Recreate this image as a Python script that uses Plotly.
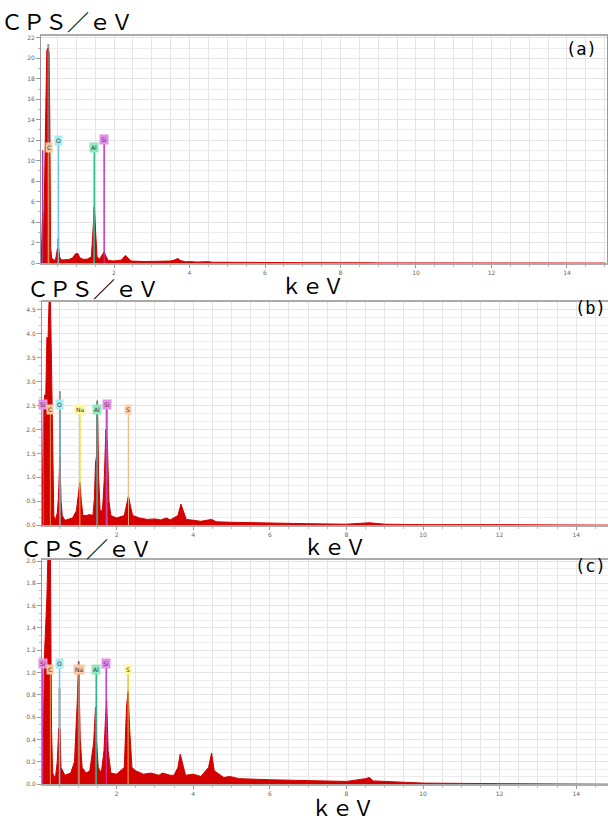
import plotly.graph_objects as go

W, H = 608, 818

# ---------------- data ----------------
# Panel (a)
a_energy = [0.07, 0.09, 0.11, 0.13, 0.16, 0.19, 0.22, 0.25, 0.28, 0.30, 0.32, 0.35, 0.40, 0.45,
            0.50, 0.53, 0.56, 0.60, 0.70, 0.80, 0.90, 0.98, 1.04, 1.10, 1.20, 1.30, 1.40, 1.44,
            1.48, 1.51, 1.55, 1.62, 1.70, 1.74, 1.78, 1.85, 2.00, 2.20, 2.30, 2.36, 2.45, 2.80,
            3.20, 3.50, 3.60, 3.69, 3.76, 3.90, 4.00, 4.20, 4.50, 4.60, 5.00, 5.50, 6.00, 7.00,
            8.00, 8.60, 8.70, 9.00, 10.0, 12.0, 15.0]
a_cps = [0.0, 5.0, 5.0, 1.0, 8.8, 13.3, 20.8, 21.0, 20.5, 13.7, 1.5, 0.5, 0.3, 0.3,
         1.4, 1.5, 0.6, 0.3, 0.3, 0.35, 0.5, 0.9, 0.95, 0.5, 0.35, 0.4, 0.6, 3.4,
         5.4, 3.3, 0.6, 0.4, 0.8, 1.1, 0.7, 0.25, 0.2, 0.3, 0.75, 0.5, 0.2, 0.15,
         0.15, 0.2, 0.3, 0.45, 0.25, 0.12, 0.15, 0.1, 0.14, 0.08, 0.08, 0.06, 0.05, 0.04,
         0.03, 0.08, 0.03, 0.02, 0.01, 0.01, 0.0]

# Panel (b)
b_energy = [0.05, 0.07, 0.09, 0.12, 0.15, 0.18, 0.21, 0.24, 0.27, 0.30, 0.33, 0.36, 0.40, 0.45,
            0.48, 0.52, 0.55, 0.58, 0.65, 0.75, 0.85, 0.95, 1.00, 1.04, 1.08, 1.12, 1.20, 1.30,
            1.38, 1.42, 1.45, 1.48, 1.50, 1.53, 1.57, 1.63, 1.68, 1.72, 1.76, 1.80, 1.85, 2.00,
            2.20, 2.27, 2.31, 2.36, 2.42, 2.60, 2.80, 3.00, 3.15, 3.30, 3.40, 3.60, 3.68, 3.74,
            3.82, 4.02, 4.20, 4.48, 4.60, 5.00, 5.50, 6.00, 7.00, 8.00, 8.60, 9.00, 10.0, 12.0,
            14.9]
b_cps = [0.0, 1.5, 2.3, 2.72, 2.7, 3.93, 3.9, 4.8, 4.8, 3.38, 1.25, 0.2, 0.1, 0.25,
         0.55, 1.44, 0.5, 0.2, 0.1, 0.12, 0.15, 0.3, 0.6, 0.89, 0.5, 0.2, 0.2, 0.22,
         0.2, 0.55, 1.3, 1.47, 2.6, 1.0, 0.3, 0.3, 1.0, 2.0, 1.7, 0.5, 0.2, 0.15,
         0.2, 0.45, 0.61, 0.4, 0.2, 0.15, 0.12, 0.13, 0.11, 0.15, 0.11, 0.2, 0.44, 0.3,
         0.12, 0.1, 0.08, 0.12, 0.07, 0.06, 0.05, 0.04, 0.03, 0.02, 0.05, 0.02, 0.01, 0.01,
         0.0]

# Panel (c)
c_energy = [0.05, 0.08, 0.12, 0.15, 0.18, 0.21, 0.27, 0.30, 0.33, 0.40, 0.45, 0.49, 0.52, 0.55,
            0.65, 0.80, 0.90, 0.97, 1.01, 1.05, 1.10, 1.20, 1.30, 1.40, 1.45, 1.48, 1.52, 1.60,
            1.67, 1.71, 1.74, 1.78, 1.85, 2.00, 2.20, 2.26, 2.30, 2.34, 2.40, 2.50, 2.70, 2.90,
            3.10, 3.20, 3.40, 3.50, 3.60, 3.66, 3.72, 3.80, 4.00, 4.20, 4.40, 4.48, 4.55, 4.80,
            4.95, 5.20, 6.00, 7.00, 8.00, 8.50, 8.60, 8.70, 9.50, 10.0, 12.0, 14.9]
c_cps = [0.0, 0.2, 1.19, 1.42, 1.68, 2.1, 2.1, 0.5, 0.1, 0.05, 0.2, 0.5, 0.5, 0.15,
         0.08, 0.1, 0.2, 0.72, 1.1, 0.4, 0.15, 0.1, 0.12, 0.37, 0.69, 0.37, 0.15, 0.1,
         0.3, 0.59, 0.75, 0.3, 0.1, 0.09, 0.15, 0.7, 0.83, 0.5, 0.15, 0.12, 0.09, 0.1,
         0.08, 0.1, 0.08, 0.08, 0.15, 0.27, 0.18, 0.08, 0.09, 0.07, 0.15, 0.28, 0.12, 0.06,
         0.07, 0.05, 0.04, 0.03, 0.025, 0.05, 0.06, 0.03, 0.015, 0.01, 0.005, 0.0]

# grey fitted-peak bars
a_fit_energy = [0.26, 0.52, 1.47]
a_fit_cps = [21.4, 2.4, 5.5]
b_fit_energy = [0.52, 1.49, 1.74]
b_fit_cps = [2.8, 2.6, 2.6]
c_fit_energy = [0.51, 1.46, 1.01]
c_fit_cps = [0.86, 0.69, 1.1]

# element markers: label, energy, label height
a_elements = ["", "C", "O", "Al", "Si"]
a_el_energy = [0.11, 0.27, 0.53, 1.48, 1.74]
a_el_height = [11.0, 11.3, 12.0, 11.3, 12.1]

b_elements = ["Si", "C", "O", "Na", "Al", "Si", "S"]
b_el_energy = [0.09, 0.27, 0.52, 1.04, 1.49, 1.74, 2.31]
b_el_height = [2.53, 2.41, 2.53, 2.41, 2.41, 2.53, 2.41]

c_elements = ["Si", "C", "O", "Na", "Al", "Si", "S"]
c_el_energy = [0.07, 0.27, 0.51, 1.02, 1.47, 1.73, 2.30]
c_el_height = [1.08, 1.03, 1.08, 1.03, 1.03, 1.08, 1.03]

a_yticks = [0, 2, 4, 6, 8, 10, 12, 14, 16, 18, 20, 22]
b_yticks = [0.0, 0.5, 1.0, 1.5, 2.0, 2.5, 3.0, 3.5, 4.0, 4.5]
c_yticks = [0.0, 0.2, 0.4, 0.6, 0.8, 1.0, 1.2, 1.4, 1.6, 1.8, 2.0]
x_ticks = [2, 4, 6, 8, 10, 12, 14]

# colours per element
EL_COL = {
    "": ("#a040c0", "#a040c0"),
    "C": ("#f0a050", "#f8c898"),
    "O": ("#70c8e8", "#a8ecf4"),
    "Na": ("#f0e040", "#fff8a0"),
    "Al": ("#30b890", "#90e8c0"),
    "Si": ("#d040d0", "#e890e8"),
    "S": ("#f0c090", "#f8d0b0"),
}
C_EL_COL = dict(EL_COL)
C_EL_COL["Na"] = ("#f09050", "#f8c8a0")
C_EL_COL["S"] = ("#e8d040", "#fff8a0")

panels = [
    dict(e=a_energy, v=a_cps, fe=a_fit_energy, fv=a_fit_cps, el=a_elements, ele=a_el_energy,
         elh=a_el_height, yt=a_yticks, fmt="d", xd=(41, 607), yd=(33, 262), xr=(0.066, 15.06),
         yr=(0, 22.2), ymin=1, cols=EL_COL, right=True),
    dict(e=b_energy, v=b_cps, fe=b_fit_energy, fv=b_fit_cps, el=b_elements, ele=b_el_energy,
         elh=b_el_height, yt=b_yticks, fmt=".1f", xd=(42, 608), yd=(301, 526), xr=(0.052, 14.83),
         yr=(0, 4.67), ymin=0.5 / 3, cols=EL_COL, right=False),
    dict(e=c_energy, v=c_cps, fe=c_fit_energy, fv=c_fit_cps, el=c_elements, ele=c_el_energy,
         elh=c_el_height, yt=c_yticks, fmt=".1f", xd=(42, 608), yd=(561, 787), xr=(0.052, 14.83),
         yr=(0, 2.01), ymin=0.2 / 3, cols=C_EL_COL, right=False),
]


def px(x):
    return x / W


def py(y):
    return 1 - y / H


fig = go.Figure()
layout = dict(width=W, height=H, margin=dict(l=0, r=0, t=0, b=0), paper_bgcolor="white",
              plot_bgcolor="white", showlegend=False, annotations=[])

for i, p in enumerate(panels):
    n = "" if i == 0 else str(i + 1)
    xa, ya = "x" + n, "y" + n
    for lab, en, h in zip(p["el"], p["ele"], p["elh"]):
        col = p["cols"][lab][0]
        fig.add_trace(go.Scatter(x=[en, en], y=[0, h], mode="lines", line=dict(color=col, width=1.5),
                                 xaxis=xa, yaxis=ya, hoverinfo="skip"))
    fig.add_trace(go.Scatter(x=p["e"], y=p["v"], mode="lines", line=dict(color="#d40000", width=1),
                             fill="tozeroy", fillcolor="#d40000", xaxis=xa, yaxis=ya, hoverinfo="skip"))
    for en, h in zip(p["fe"], p["fv"]):
        fig.add_trace(go.Scatter(x=[en, en], y=[0, h], mode="lines", line=dict(color="#808080", width=2),
                                 opacity=0.8, xaxis=xa, yaxis=ya, hoverinfo="skip"))
    for lab, en, h in zip(p["el"], p["ele"], p["elh"]):
        col = p["cols"][lab][0]
        fig.add_trace(go.Scatter(x=[en, en], y=[0, h], mode="lines", line=dict(color=col, width=1),
                                 opacity=0.9, xaxis=xa, yaxis=ya, hoverinfo="skip"))
        if lab:
            layout["annotations"].append(dict(
                x=en, y=h, xref=xa, yref=ya, text=lab, showarrow=False, yanchor="middle",
                font=dict(size=6, color="#333", family="DejaVu Sans"),
                bgcolor=p["cols"][lab][1], borderpad=1))

    layout["xaxis" + n] = dict(
        domain=[px(p["xd"][0]), px(p["xd"][1])], range=list(p["xr"]), anchor=ya,
        tickvals=x_ticks, ticktext=[str(t) for t in x_ticks], ticks="outside", ticklen=3,
        tickcolor="#999", tickfont=dict(size=6, color="#666", family="DejaVu Sans"),
        showgrid=True, gridcolor="#e4e4e4", gridwidth=1,
        minor=dict(dtick=0.5, tick0=0, showgrid=True, gridcolor="#e4e4e4", ticks="outside",
                   ticklen=2, tickcolor="#bbb"),
        showline=True, linecolor="#aaa", linewidth=1.5, mirror=True, zeroline=False)
    layout["yaxis" + n] = dict(
        domain=[py(p["yd"][1]), py(p["yd"][0])], range=list(p["yr"]), anchor=xa,
        tickvals=p["yt"], tickformat=p["fmt"], ticks="outside", ticklen=4, tickcolor="#999",
        tickfont=dict(size=6, color="#666", family="DejaVu Sans"),
        showgrid=True, gridcolor="#e4e4e4", gridwidth=1,
        minor=dict(dtick=p["ymin"], tick0=0, showgrid=True, gridcolor="#ececec", ticks="outside",
                   ticklen=2, tickcolor="#bbb"),
        showline=True, linecolor="#999", linewidth=1, mirror=p["right"], zeroline=False)

TF = "Noto Sans CJK JP"
texts = [
    ("ＣＰＳ／ｅＶ", -1, 17, 22), ("ｋｅＶ", 279, 284, 21),
    ("ＣＰＳ／ｅＶ", 25, 286, 22), ("ｋｅＶ", 301, 547, 21),
    ("ＣＰＳ／ｅＶ", 18, 548, 22), ("ｋｅＶ", 309, 810, 21),
]
for t, x, y, s in texts:
    layout["annotations"].append(dict(text=t, x=px(x), y=py(y), xref="paper", yref="paper",
                                      xanchor="left", yanchor="middle", showarrow=False,
                                      font=dict(size=s, color="black", family=TF)))
for t, x, y in [("(a)", 564, 46), ("(b)", 573, 307), ("(c)", 573, 567)]:
    layout["annotations"].append(dict(text=t, x=px(x), y=py(y), xref="paper", yref="paper",
                                      xanchor="left", yanchor="middle", showarrow=False,
                                      font=dict(size=17, color="black", family="DejaVu Sans Mono")))

fig.update_layout(**layout)
fig.write_html("out.html", config={"displayModeBar": False},
               post_script="document.body.style.margin='0px';document.body.style.padding='0px';")
